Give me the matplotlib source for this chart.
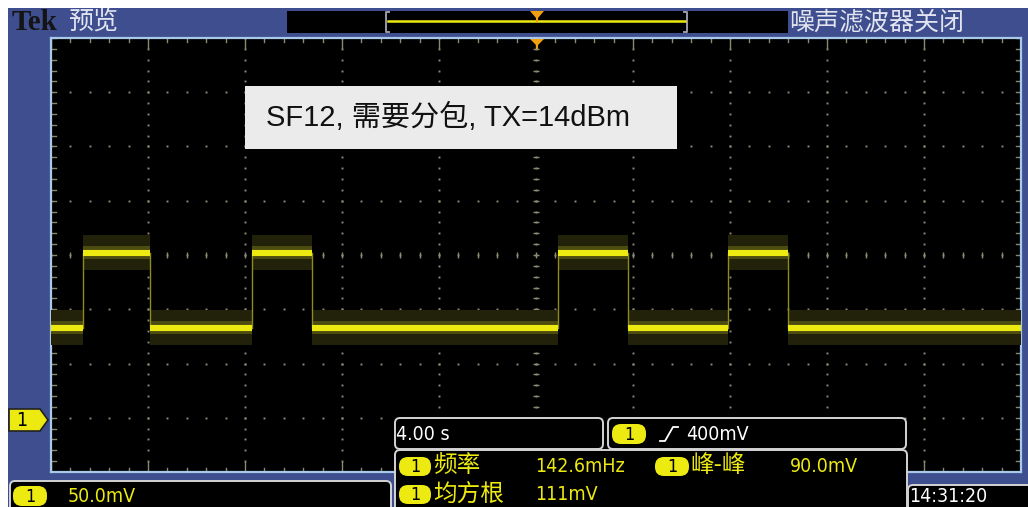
import numpy as np
import matplotlib
matplotlib.use("Agg")
import matplotlib.pyplot as plt
from matplotlib.patches import Rectangle, FancyBboxPatch, Polygon

# ---- waveform (channel 1, 50 mV/div, 4 s/div) ----
seg_start = [-20.0, -18.7, -15.9, -11.7, -9.25, 0.9, 3.8, 7.9, 10.4]
seg_level = [83, 152, 83, 152, 83, 152, 83, 152, 83]
t_end = 20.0
noise_halfwidth = 16.0      # mV, envelope of the noisy trace

# ---- on-screen readouts ----
title_left = "Tek"
mode_text = "预览"
filter_text = "噪声滤波器关闭"
ch_scale = "50.0mV"
timebase = "4.00 s"
trig_level = "400mV"
meas_names = ["频率", "峰-峰", "均方根"]
meas_values = ["142.6mHz", "90.0mV", "111mV"]
clock = "14:31:20"
note = "SF12, 需要分包, TX=14dBm"

W, H = 1028, 507
BLUE = "#3e4e8e"
EDGE_BLUE = "#a9c9ea"
YEL = "#ecea10"
GRID = "#8a8a74"
CJK = ["Noto Sans CJK SC", "DejaVu Sans"]
MONO = dict(family="DejaVu Sans", fontstretch="condensed")

fig = plt.figure(figsize=(W / 100, H / 100), dpi=100, facecolor="white")

def px_axes(z):
    a = fig.add_axes([0, 0, 1, 1])
    a.set_xlim(0, W)
    a.set_ylim(H, 0)
    a.axis("off")
    a.set_zorder(z)
    return a

back = px_axes(0)
front = px_axes(2)

# screen frame
back.add_patch(Rectangle((8, 8), W - 8, H - 8, color=BLUE, lw=0))

# graticule axes
gl, gr, gt, gb = 51, 1021, 38, 472
ax = fig.add_axes([gl / W, (H - gb) / H, (gr - gl) / W, (gb - gt) / H])
ax.set_zorder(1)
ax.set_facecolor("black")
ax.set_xlim(-20, 20)
ax.set_ylim(-50, 350)
ax.set_xticks([])
ax.set_yticks([])
for s in ax.spines.values():
    s.set_color(EDGE_BLUE)
    s.set_linewidth(1.6)

xdiv, ydiv = 4.0, 50.0
xsub, ysub = xdiv / 5, ydiv / 5
xmaj = np.arange(-20, 20.01, xdiv)
ymaj = np.arange(-50, 350.01, ydiv)
xs = np.arange(-20, 20.01, xsub)
ys = np.arange(-50, 350.01, ysub)

# dotted division lines
for x in xmaj[1:-1]:
    ax.plot(np.full_like(ys, x), ys, ls="none", marker="s", ms=1.4, color=GRID, mew=0)
for y in ymaj[1:-1]:
    ax.plot(xs, np.full_like(xs, y), ls="none", marker="s", ms=1.4, color=GRID, mew=0)
# centre cross ticks
ax.plot(np.zeros_like(ys), ys, ls="none", marker="_", ms=4.5, color=GRID, mew=1.0)
ax.plot(xs, np.full_like(xs, 150.0), ls="none", marker="|", ms=4, color=GRID, mew=1.0)
# edge ticks
px_y = 400 / (gb - gt)
px_x = 40 / (gr - gl)
for x in xs:
    major = np.isclose(((x + 20) / xdiv) % 1, 0) or np.isclose(((x + 20) / xdiv) % 1, 1)
    L = 10 if major else 4
    ax.plot([x, x], [350, 350 - L * px_y], color=GRID, lw=1)
    ax.plot([x, x], [-50, -50 + L * px_y], color=GRID, lw=1)
for y in ys:
    ax.plot([-20, -20 + 5 * px_x], [y, y], color=GRID, lw=1)
    ax.plot([20, 20 - 5 * px_x], [y, y], color=GRID, lw=1)

# trace: noise envelope, edges, bright core
ends = seg_start[1:] + [t_end]
for t0, t1, v in zip(seg_start, ends, seg_level):
    ax.fill_between([t0, t1], v - noise_halfwidth, v + noise_halfwidth,
                    color="#22210a", lw=0, zorder=3)
    ax.fill_between([t0, t1], v - 6, v + 6, color="#4c4b10", lw=0, zorder=3)
    ax.plot([t0, t1], [v, v], color=YEL, lw=4.4, solid_capstyle="butt", zorder=5)
for t, v0, v1 in zip(seg_start[1:], seg_level[:-1], seg_level[1:]):
    ax.plot([t, t], [v0, v1], color="#8e8c1c", lw=1.0, zorder=4)

# ---- top bar ----
front.add_patch(Rectangle((0, 0), W, 8, color="white", lw=0))
front.text(12, 23, title_left, fontsize=21, fontweight="bold",
           family="Liberation Serif", color="#141414", va="center", ha="left")
front.text(68, 22, mode_text, fontsize=18, family=CJK, color="#e2e4f0",
           va="center", ha="left")
front.text(789, 22, filter_text, fontsize=18, family=CJK, color="#e2e4f0",
           va="center", ha="left")
front.add_patch(Rectangle((287, 11), 501, 22, color="black", lw=0))
for bx, d in ((386, 1), (687, -1)):
    front.plot([bx + 3 * d, bx, bx, bx + 3 * d], [12, 12, 32, 32], color="#9a9aa8", lw=1.4)
front.plot([388, 685], [21, 21], color=YEL, lw=1.8)
front.add_patch(Polygon([(530, 11), (544, 11), (538, 18), (536, 18)], color="#f0a010", lw=0))
front.plot([537, 537], [17, 21], color="#f0a010", lw=1.5)
front.add_patch(Polygon([(530, 39), (544, 39), (538, 45), (536, 45)], color="#f0a010", lw=0))
front.plot([537, 537], [44, 48], color="#f0a010", lw=1.5)

# channel ground marker
front.add_patch(Polygon([(9, 409), (40, 409), (48, 420), (40, 431), (9, 431)],
                        facecolor=YEL, edgecolor="#222222", lw=1.2))
front.text(22, 420.5, "1", fontsize=14, color="black", va="center", ha="center", **MONO)

def pill(x0, y0, w, h):
    front.add_patch(FancyBboxPatch((x0, y0), w, h, boxstyle="round,pad=0,rounding_size=9",
                                   facecolor=YEL, edgecolor="none"))
    front.text(x0 + w / 2, y0 + h / 2 + 0.5, "1", fontsize=13, color="black",
               va="center", ha="center", **MONO)

def panel(x0, y0, x1, y1):
    front.add_patch(FancyBboxPatch((x0, y0), x1 - x0, y1 - y0,
                                   boxstyle="round,pad=0,rounding_size=5",
                                   facecolor="black", edgecolor="#d4d4d4", lw=1.4))

VAL = dict(fontsize=14, va="center", ha="left", **MONO)
NAME = dict(fontsize=17, family=CJK, color=YEL, va="center", ha="left")

# bottom-left channel scale
panel(10, 481, 391, 512)
pill(13, 486, 34, 20)
front.text(68, 496, ch_scale, color=YEL, **VAL)

# timebase and trigger
panel(395, 418, 603, 449)
front.text(396, 434, timebase, color="white", **VAL)
panel(608, 418, 906, 449)
pill(612, 424, 34, 20)
front.plot([660, 665, 673, 678], [441, 441, 427, 427], color="white", lw=1.3)
front.text(686, 434, trig_level, color="white", **VAL)

# measurements
panel(395, 450, 907, 512)
pill(399, 457, 32, 19)
front.text(433, 466, meas_names[0], **NAME)
front.text(535, 467, meas_values[0], color=YEL, **VAL)
pill(655, 457, 34, 19)
front.text(690, 466, meas_names[1], **NAME)
front.text(790, 467, meas_values[1], color=YEL, **VAL)
pill(399, 485, 32, 19)
front.text(433, 494, meas_names[2], **NAME)
front.text(535, 494, meas_values[2], color=YEL, **VAL)

# clock
panel(908, 485, 1035, 512)
front.text(909, 497, clock, color="white", **VAL)

# caption box
front.add_patch(Rectangle((245, 86), 432, 63, facecolor="#ebebeb", edgecolor="none"))
front.text(266, 117, note, fontsize=21, color="#111111", va="center", ha="left",
           family=["Liberation Sans", "Noto Sans CJK SC"])

fig.savefig("out.png", dpi=100, facecolor="white")
